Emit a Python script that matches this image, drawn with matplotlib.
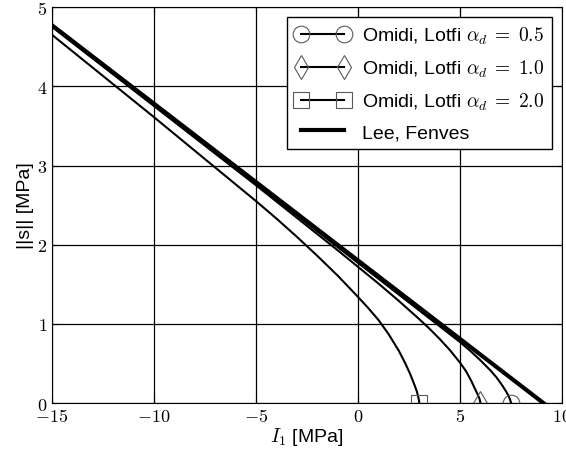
import matplotlib
matplotlib.use("Agg")
import matplotlib.pyplot as plt

plt.rcParams["font.family"] = ["Liberation Sans", "DejaVu Sans"]
plt.rcParams["mathtext.fontset"] = "cm"
plt.rcParams["xtick.direction"] = "in"
plt.rcParams["ytick.direction"] = "in"

# Omidi, Lotfi alpha_d = 0.5
i1_a05 = [-15, -10, -5, 0, 2, 3, 4, 5, 5.5, 6, 6.5, 6.8, 7.05, 7.25, 7.38, 7.46, 7.5]
s_a05 = [4.76, 3.77, 2.77, 1.77, 1.37, 1.17, 0.97, 0.77, 0.66, 0.54, 0.41, 0.32, 0.23, 0.15, 0.09, 0.04, 0.0]

# Omidi, Lotfi alpha_d = 1.0
i1_a10 = [-15, -10, -5, -3, -1, 0, 1, 2, 3, 3.5, 4, 4.5, 5, 5.3, 5.55, 5.75, 5.88, 5.96, 6.0]
s_a10 = [4.75, 3.75, 2.75, 2.34, 1.93, 1.72, 1.51, 1.29, 1.06, 0.94, 0.81, 0.67, 0.51, 0.40, 0.28, 0.17, 0.10, 0.05, 0.0]

# Omidi, Lotfi alpha_d = 2.0
i1_a20 = [-15, -12.5, -10, -7.5, -5, -4, -3, -2, -1, 0, 0.5, 1.0, 1.5, 2.0, 2.3, 2.55,
          2.75, 2.88, 2.95, 2.99, 3.0]
s_a20 = [4.65, 4.13, 3.61, 3.08, 2.55, 2.33, 2.10, 1.86, 1.61, 1.34, 1.20, 1.05, 0.87, 0.66,
         0.51, 0.37, 0.24, 0.15, 0.08, 0.03, 0.0]

# Lee, Fenves
i1_lf = [-15, 9.09]
s_lf = [4.77, 0.0]

xticks = [-15, -10, -5, 0, 5, 10]
yticks = [0, 1, 2, 3, 4, 5]

fig = plt.figure(figsize=(5.66, 4.52), dpi=100)
ax = fig.add_axes([0.092, 0.106, 0.901, 0.876])

mk = dict(markevery=[-1], markerfacecolor="none", markeredgecolor="0.35",
          markeredgewidth=0.8, color="k", lw=1.5)
ax.plot(i1_a05, s_a05, marker="o", markersize=12, label=r"Omidi, Lotfi $\alpha_d\;=\;0.5$", **mk)
ax.plot(i1_a10, s_a10, marker="d", markersize=12, label=r"Omidi, Lotfi $\alpha_d\;=\;1.0$", **mk)
ax.plot(i1_a20, s_a20, marker="s", markersize=11, label=r"Omidi, Lotfi $\alpha_d\;=\;2.0$", **mk)
ax.plot(i1_lf, s_lf, color="k", lw=3, label="Lee, Fenves")

ax.set_xlim(-15, 10)
ax.set_ylim(0, 5)
ax.set_xticks(xticks, [f"${t}$" for t in xticks], fontsize=13)
ax.set_yticks(yticks, [f"${t}$" for t in yticks], fontsize=13)
ax.tick_params(top=True, right=True)
ax.grid(True, color="k", linestyle="-", linewidth=0.9)
ax.set_axisbelow(True)

ax.set_xlabel(r"$I_1$ [MPa]", fontsize=14, labelpad=0)
ax.set_ylabel("||s|| [MPa]", fontsize=14, labelpad=2)

leg = ax.legend(loc="upper right", fontsize=14, numpoints=2, fancybox=False,
                framealpha=1, edgecolor="k", handlelength=2.8, handletextpad=0.65,
                borderpad=0.4, labelspacing=0.6, borderaxespad=0.5)
leg.get_frame().set_linewidth(1.0)

fig.savefig("out.png", dpi=100)
